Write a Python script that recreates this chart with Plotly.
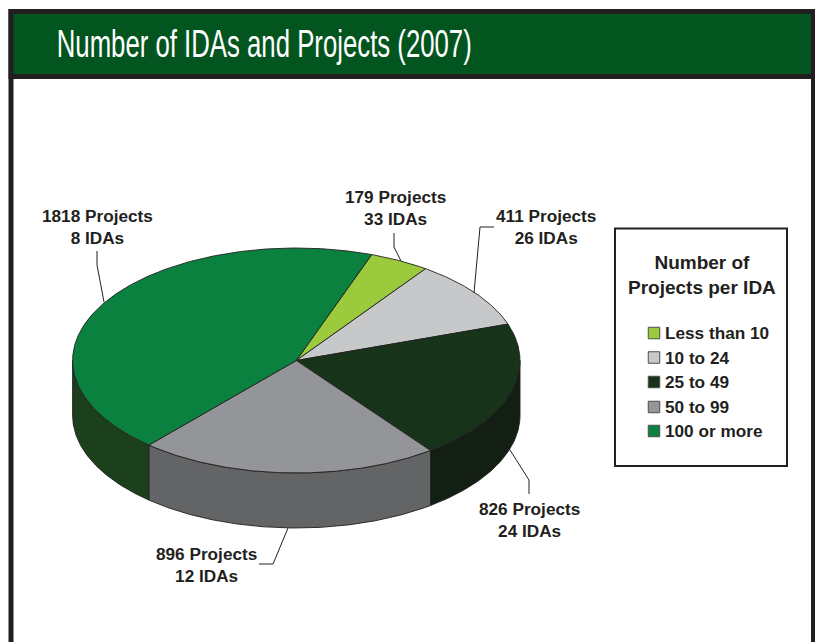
import numpy as np
import plotly.graph_objects as go

# ---- data ----
categories = ["Less than 10", "10 to 24", "25 to 49", "50 to 99", "100 or more"]
projects = [179, 411, 826, 896, 1818]
idas = [33, 26, 24, 12, 8]
title_text = "Number of IDAs and Projects (2007)"

# ---- style ----
top_colors = ["#9bcb3c", "#c7c8ca", "#17331a", "#939598", "#0b8140"]
side_colors = ["#6f9430", "#8f9092", "#121f12", "#636466", "#1c3f1c"]
ink = "#231f20"
header_green = "#03551f"
font = "Liberation Sans"
W, H = 815, 642
CX, CY, RX, RY, DEPTH = 296.3, 360.5, 223.7, 112.5, 55
START_DEG = 19.7
STEP = 0.5

# label anchor (pixel) per category
label_xy = [(395, 207.5), (546, 226.5), (529, 519.5), (206, 564.5), (97, 226.5)]
# leader paths per category
leaders = [
    [(394, 233), (394, 247), (401, 261)],
    [(494, 227), (480, 227), (474, 293)],
    [(510, 450), (529, 480), (529, 494)],
    [(288, 528), (273, 564), (259, 564)],
    [(97, 251), (97, 265), (104, 302)],
]
legend_rows = [333, 357.5, 382, 407, 431]

fig = go.Figure()


def ell(deg, dy=0.0):
    t = np.radians(deg)
    return CX + RX * np.sin(t), CY - RY * np.cos(t) + dy


fracs = np.array(projects, float) / sum(projects)
edges = START_DEG + 360 * np.concatenate([[0], np.cumsum(fracs)])

# side walls: only the front half of the disc (90..270 degrees) is visible
for i, c in enumerate(categories):
    a, b = max(edges[i], 90), min(edges[i + 1], 270)
    if b <= a:
        continue
    ts = np.append(np.arange(a, b, STEP), b)
    x1, y1 = ell(ts)
    x2, y2 = ell(ts[::-1], DEPTH)
    fig.add_trace(go.Scatter(
        x=np.r_[x1, x2, x1[0]], y=np.r_[y1, y2, y1[0]], mode="lines", fill="toself",
        fillcolor=side_colors[i], line=dict(color=ink, width=0.9),
        hoverinfo="skip", showlegend=False))

# top faces
for i, c in enumerate(categories):
    ts = np.append(np.arange(edges[i], edges[i + 1], STEP), edges[i + 1])
    x, y = ell(ts)
    fig.add_trace(go.Scatter(
        x=np.r_[CX, x, CX], y=np.r_[CY, y, CY], mode="lines", fill="toself",
        fillcolor=top_colors[i], line=dict(color=ink, width=0.9),
        name=c, text=f"{projects[i]} Projects, {idas[i]} IDAs", hoverinfo="name+text",
        showlegend=False))

# hand-placed key swatches
fig.add_trace(go.Scatter(
    x=[654] * len(categories), y=legend_rows, mode="markers",
    marker=dict(symbol="square", size=11.5, color=top_colors, line=dict(color="#4d4d4f", width=1)),
    hoverinfo="skip", showlegend=False, cliponaxis=False))

shapes = [
    # frame
    dict(type="rect", x0=8.5, x1=13.5, y0=9, y1=642, fillcolor=ink, line_width=0, layer="below"),
    dict(type="rect", x0=811, x1=815, y0=9, y1=642, fillcolor=ink, line_width=0, layer="below"),
    dict(type="rect", x0=8.5, x1=815, y0=9, y1=79, fillcolor=ink, line_width=0, layer="below"),
    dict(type="rect", x0=13.5, x1=811, y0=14, y1=74, fillcolor=header_green, line_width=0, layer="below"),
    # key box
    dict(type="rect", x0=615, x1=787, y0=228.5, y1=466, fillcolor="white",
         line=dict(color=ink, width=2), layer="below"),
]
for path in leaders:
    d = "M " + " L ".join(f"{x},{y}" for x, y in path)
    shapes.append(dict(type="path", path=d, line=dict(color=ink, width=1), layer="above"))

annotations = [dict(
    x=264.5, y=44, xanchor="center", yanchor="middle", showarrow=False,
    text=title_text,
    font=dict(family=font, size=38, color="white"))]
for i, (x, y) in enumerate(label_xy):
    annotations.append(dict(
        x=x, y=y, xanchor="center", yanchor="middle", showarrow=False, align="center",
        text=f"{projects[i]} Projects<br>{idas[i]} IDAs",
        font=dict(family=font, size=17.2, color=ink, weight="bold")))
annotations.append(dict(
    x=701.5, y=275, xanchor="center", yanchor="middle", showarrow=False, align="center",
    text="Number of<br>Projects per IDA",
    font=dict(family=font, size=19, color=ink, weight="bold")))
for c, y in zip(categories, legend_rows):
    annotations.append(dict(
        x=663, y=y, xanchor="left", yanchor="middle", showarrow=False, text=c,
        font=dict(family=font, size=17.2, color=ink, weight="bold")))

fig.update_layout(
    width=W, height=H, margin=dict(l=0, r=0, t=0, b=0), autosize=False,
    paper_bgcolor="white", plot_bgcolor="white", showlegend=False,
    xaxis=dict(range=[0, W], visible=False, fixedrange=True),
    yaxis=dict(range=[H, 0], visible=False, fixedrange=True),
    shapes=shapes, annotations=annotations)

# The reference title is set in a condensed face; squeeze the real text to its width.
post = """
document.body.style.margin='0';document.body.style.overflow='hidden';
document.querySelectorAll('text.annotation-text').forEach(function(t){
  if (t.textContent.indexOf('(2007)')>=0){
    t.setAttribute('textLength','415');
    t.setAttribute('lengthAdjust','spacingAndGlyphs');
  }
});
"""
fig.write_html("out.html", config={"displayModeBar": False}, post_script=post)
